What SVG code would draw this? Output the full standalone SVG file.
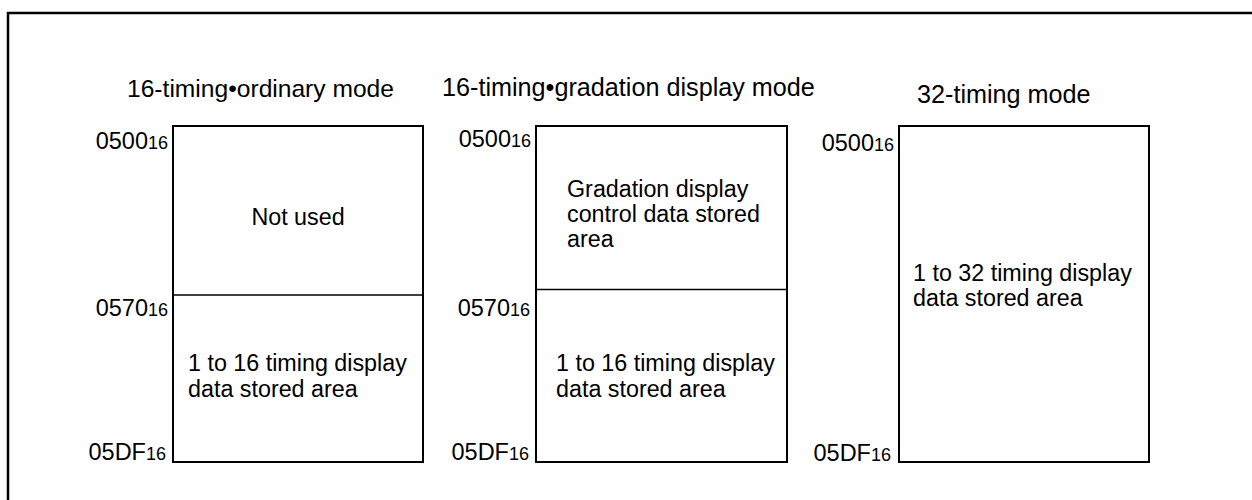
<svg xmlns="http://www.w3.org/2000/svg" width="1252" height="500" viewBox="0 0 1252 500">
<style>
.frame{fill:none;stroke:#000;stroke-width:2.5}
.box{fill:#fff;stroke:#000;stroke-width:2}
.div{stroke:#000;stroke-width:1.6}
text{font-family:"Liberation Sans",Arial,sans-serif;fill:#000}
.t{font-size:25.2px}
.b{font-size:23.3px}
.a{font-size:23.5px}
.s{font-size:18px}
</style>
<rect class="frame" x="8" y="13" width="1270" height="520"/>
<g id="titles">
<text class="t" x="127" y="97" style="font-size:24.6px">16-timing•ordinary mode</text>
<text class="t" x="442" y="96">16-timing•gradation display mode</text>
<text class="t" x="917" y="103">32-timing mode</text>
</g>
<g id="node-ordinary">
<rect class="box" x="173" y="126" width="250" height="336"/>
<line class="div" x1="173" y1="295" x2="423" y2="295"/>
<text class="b" x="298" y="225" text-anchor="middle">Not used</text>
<text class="b" x="188" y="371">1 to 16 timing display</text>
<text class="b" x="188" y="397">data stored area</text>
<text class="a" x="168" y="149" text-anchor="end">0500<tspan class="s">16</tspan></text>
<text class="a" x="168" y="316" text-anchor="end">0570<tspan class="s">16</tspan></text>
<text class="a" x="166" y="460" text-anchor="end">05DF<tspan class="s">16</tspan></text>
</g>
<g id="node-gradation">
<rect class="box" x="536" y="126" width="251" height="336"/>
<line class="div" x1="536" y1="289.5" x2="787" y2="289.5"/>
<text class="b" x="567" y="197">Gradation display</text>
<text class="b" x="567" y="222">control data stored</text>
<text class="b" x="567" y="247">area</text>
<text class="b" x="556" y="371">1 to 16 timing display</text>
<text class="b" x="556" y="397">data stored area</text>
<text class="a" x="531" y="147" text-anchor="end">0500<tspan class="s">16</tspan></text>
<text class="a" x="530" y="316" text-anchor="end">0570<tspan class="s">16</tspan></text>
<text class="a" x="529" y="460" text-anchor="end">05DF<tspan class="s">16</tspan></text>
</g>
<g id="node-32timing">
<rect class="box" x="899" y="126" width="250" height="336"/>
<text class="b" x="913" y="281">1 to 32 timing display</text>
<text class="b" x="913" y="306">data stored area</text>
<text class="a" x="894" y="151" text-anchor="end">0500<tspan class="s">16</tspan></text>
<text class="a" x="891" y="461" text-anchor="end">05DF<tspan class="s">16</tspan></text>
</g>
<g id="connectors"></g>
</svg>
